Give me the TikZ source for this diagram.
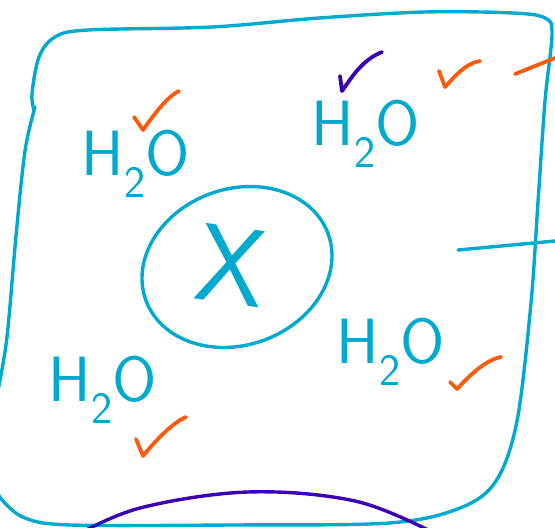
\documentclass[tikz,border=0pt]{standalone}
\usepackage{fontspec}
\usepackage{tikz}
\definecolor{penblue}{HTML}{00A9CE}
\definecolor{penorange}{HTML}{FF5A0A}
\definecolor{penpurple}{HTML}{3C00B4}

\begin{document}
\begin{tikzpicture}[
  x=1pt, y=-1pt,
  ink/.style={draw=#1, line width=3.4pt, line cap=round, line join=round},
  water/.style={text=penblue, font=\sffamily\fontsize{64}{64}\selectfont, inner sep=0pt},
  tick/.style={ink=#1, line width=3.8pt}
]
\useasboundingbox (0,0) rectangle (555,528);

% cell outline
\draw[ink=penblue] plot[smooth, tension=0.55] coordinates {
  (34,110) (32,94) (39,57) (55,37) (88,30) (212,27) (319,18) (425,12)
  (513,13) (545,18) (552,34) (545,101) (538,202) (531,303) (517,421)
  (496,481) (460,508) (389,523) (230,525) (71,525) (25,518) (2,500) (-4,488)};
\draw[ink=penblue] plot[smooth, tension=0.55] coordinates {
  (35,107) (25,151) (16,236) (7,337) (-2,390)};
\draw[ink=penblue] (458,250) -- (555,241);

% solute
\draw[ink=penblue, rotate around={20:(237,267)}] (237,267) ellipse (97 and 78);
\node[text=penblue, font=\sffamily\fontsize{110}{110}\selectfont, inner sep=0pt, rotate=-8] (solute) at (232,265) {X};

% water molecules
\node[water] (w1) at (136,164) {H\textsubscript{2}O};
\node[water] (w2) at (366,134) {H\textsubscript{2}O};
\node[water] (w3) at (103,390) {H\textsubscript{2}O};
\node[water] (w4) at (391,352) {H\textsubscript{2}O};

% ticks
\draw[tick=penorange] (134,117) -- (143,130) .. controls (155,113) and (168,96) .. (179,91);
\draw[tick=penpurple] (340,76) -- (342,91) .. controls (352,77) and (362,60) .. (382,52);
\draw[tick=penorange] (439,71) -- (445,87) .. controls (455,76) and (466,63) .. (480,61);
\draw[tick=penorange] (450,382) -- (457,389) .. controls (468,377) and (485,360) .. (501,357);
\draw[tick=penorange] (136,439) -- (143,456) .. controls (152,445) and (170,424) .. (186,417);
\draw[tick=penorange] (515,74) -- (555,58);

% neighbouring cell
\draw[ink=penpurple] plot[smooth, tension=0.6] coordinates {
  (75,536) (140,508) (248,492) (355,501) (432,532)};
\end{tikzpicture}
\end{document}
